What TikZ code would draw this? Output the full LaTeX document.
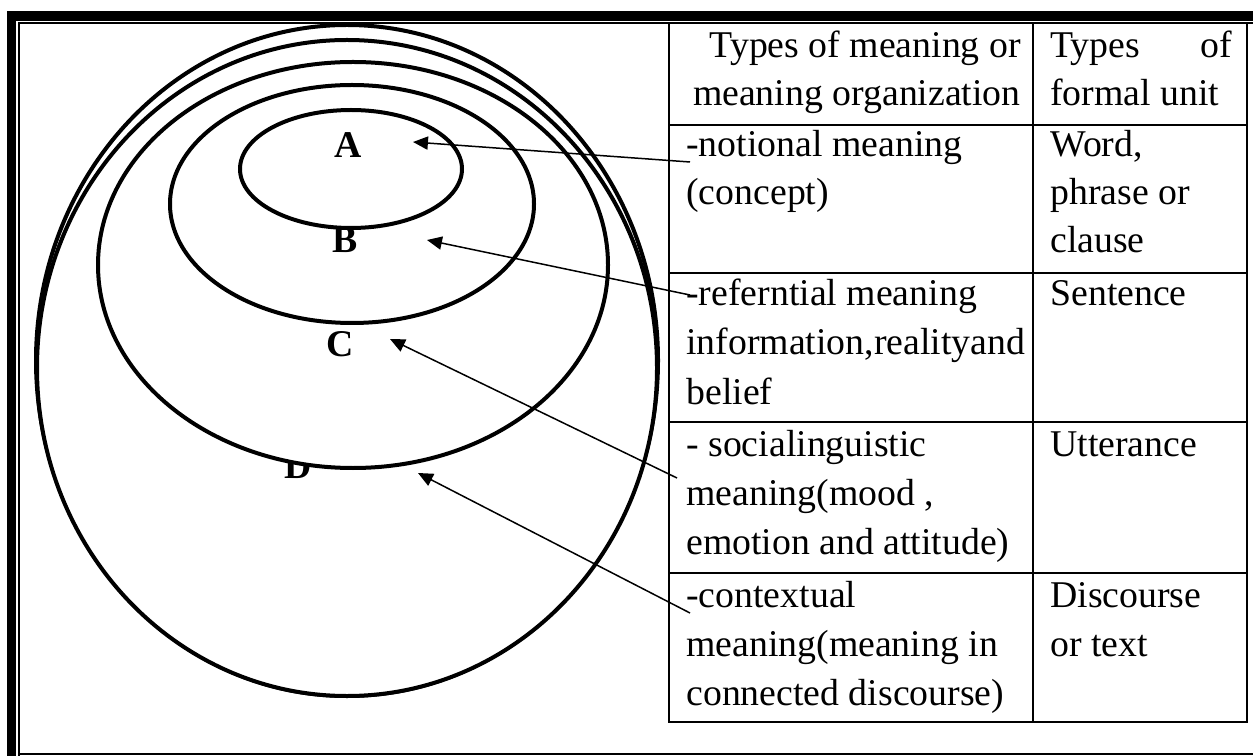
\documentclass[tikz,border=0pt]{standalone}
\usepackage{fontspec}
\setmainfont{Liberation Serif}
\usetikzlibrary{arrows.meta}

\begin{document}
\begin{tikzpicture}[x=0.02cm,y=-0.02cm,
    ring/.style={line width=0.08cm, fill=white},
    rule/.style={line width=0.03cm},
    pointer/.style={line width=0.03cm, -{Triangle[length=8.5pt,width=7.5pt]}},
    cell/.style={anchor=base west},
    tag/.style={anchor=base, font=\fontsize{21.5}{27}\selectfont\bfseries}]
        \tikzstyle{every node}=[font=\fontsize{21.5}{27}\selectfont, inner sep=0pt]
        \useasboundingbox (0,0) rectangle (1253,756);
        \fill [white] (0,0) rectangle (1253,756);
        % page frame
        \draw [line width=0.19cm] (11.5,756) -- (11.5,16) -- (1253,16);
        \draw [rule] (19,756) -- (19,23) -- (1253,23);
        \draw [rule] (19,754) -- (1253,754);
        % nested rings
        \draw [ring] (347,360.5) ellipse [x radius=311, y radius=335.5];
        \draw [ring] (347,368) ellipse [x radius=310, y radius=328];
        \node [tag] (labD) at (298,478) {D};
        \draw [ring] (353,265) ellipse [x radius=255, y radius=203];
        \draw [ring] (352,204) ellipse [x radius=182, y radius=119];
        \draw [ring] (351,169) ellipse [x radius=111, y radius=59];
        \node [tag] (labA) at (348,158) {A};
        \node [tag] (labB) at (345,253) {B};
        \node [tag] (labC) at (340,357) {C};
        % table
        \draw [line width=0.04cm] (669,23) rectangle (1247,722);
        \draw [rule] (1033,23) -- (1033,722);
        \foreach \y in {125,273,422,573}
            \draw [rule] (669,\y) -- (1247,\y);
        \node [anchor=base east] (h1) at (1021,58) {Types of meaning or};
        \node [anchor=base east] (h2) at (1021,106) {meaning organization};
        \node [cell] (h3) at (1050,58) {Types};
        \node [anchor=base east] (h4) at (1232,58) {of};
        \node [cell] (h5) at (1050,106) {formal unit};
        \node [cell] (n1) at (686,157) {-notional meaning};
        \node [cell] (n2) at (686,205) {(concept)};
        \node [cell] (u1) at (1050,157) {Word,};
        \node [cell] (u2) at (1050,205) {phrase or};
        \node [cell] (u3) at (1050,253) {clause};
        \node [cell] (r1) at (686,306) {-referntial meaning};
        \node [cell] (r2) at (686,355) {information,realityand};
        \node [cell] (r3) at (686,404) {belief};
        \node [cell] (u4) at (1050,306) {Sentence};
        \node [cell] (s1) at (686,456) {- socialinguistic};
        \node [cell] (s2) at (686,505) {meaning(mood ,};
        \node [cell] (s3) at (686,554) {emotion and attitude)};
        \node [cell] (u5) at (1050,456) {Utterance};
        \node [cell] (c1) at (686,607) {-contextual};
        \node [cell] (c2) at (686,656) {meaning(meaning in};
        \node [cell] (c3) at (686,705) {connected discourse)};
        \node [cell] (u6) at (1050,607) {Discourse};
        \node [cell] (u7) at (1050,656) {or text};
        % pointers
        \coordinate (tA) at (690,162);
        \coordinate (tB) at (690,295);
        \coordinate (tC) at (677,478);
        \coordinate (tD) at (690,613);
        \coordinate (pA) at (413,142);
        \coordinate (pB) at (427,240);
        \coordinate (pC) at (390,339);
        \coordinate (pD) at (418,473);
        \draw [pointer] (tA) -- (pA);
        \draw [pointer] (tB) -- (pB);
        \draw [pointer] (tC) -- (pC);
        \draw [pointer] (tD) -- (pD);
    \end{tikzpicture}
\end{document}
